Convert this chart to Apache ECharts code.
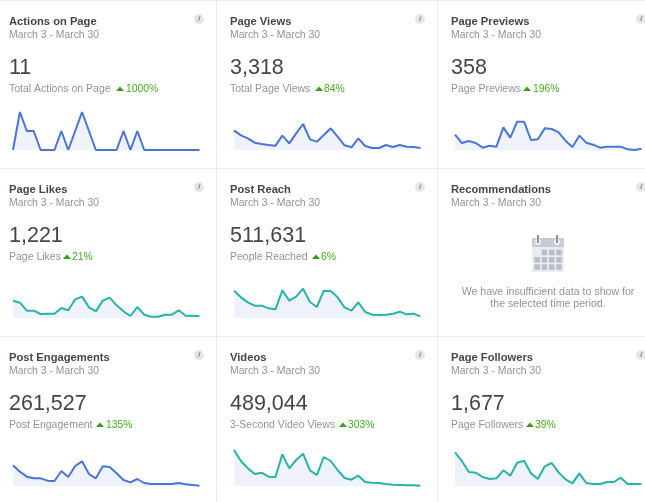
<!DOCTYPE html>
<html>
<head>
<meta charset="utf-8">
<style>
  html, body { margin: 0; padding: 0; background: #fff; }
  #main { width: 645px; height: 502px; }
</style>
<script src="https://cdn.jsdelivr.net/npm/echarts@6/dist/echarts.min.js"></script>
</head>
<body>
<div id="main"></div>
<script>
var titles = ['Actions on Page', 'Page Views', 'Page Previews', 'Page Likes', 'Post Reach', 'Recommendations', 'Post Engagements', 'Videos', 'Page Followers'];
var totals = ['11', '3,318', '358', '1,221', '511,631', '', '261,527', '489,044', '1,677'];
var subLabels = ['Total Actions on Page', 'Total Page Views', 'Page Previews', 'Page Likes', 'People Reached', '', 'Post Engagement', '3-Second Video Views', 'Page Followers'];
var changes = ['1000%', '84%', '196%', '21%', '6%', '', '135%', '303%', '39%'];
var dateRange = 'March 3 - March 30';
var emptyText = ['We have insufficient data to show for', 'the selected time period.'];
var days = ['3', '4', '5', '6', '7', '8', '9', '10', '11', '12', '13', '14', '15', '16', '17', '18', '19', '20', '21', '22', '23', '24', '25', '26', '27', '28', '29', '30'];

// values, relative height of each sparkline
var actionsOnPage = [0, 114, 57, 57, 0, 0, 0, 57, 0, 57, 114, 57, 0, 0, 0, 0, 57, 0, 57, 0, 0, 0, 0, 0, 0, 0, 0, 0];
var pageViews = [59, 44, 35, 22, 18, 15, 13, 43, 20, 50, 78, 32, 25, 45, 65, 40, 14, 8, 35, 12, 6, 6, 15, 9, 15, 10, 9, 6];
var pagePreviews = [46, 21, 27, 21, 7, 13, 10, 68, 37, 85, 85, 30, 32, 65, 63, 53, 28, 9, 43, 22, 16, 7, 10, 10, 10, 2, 0, 4];
var pageLikes = [52, 46, 22, 22, 12, 13, 13, 30, 23, 56, 64, 32, 20, 52, 61, 38, 20, 6, 33, 10, 4, 4, 10, 10, 23, 7, 7, 5];
var postReach = [82, 62, 47, 37, 37, 29, 26, 83, 52, 64, 88, 48, 33, 82, 81, 62, 32, 22, 47, 18, 10, 9, 10, 13, 19, 11, 13, 5];
var postEngagements = [62, 43, 28, 23, 23, 16, 15, 45, 27, 60, 74, 36, 23, 59, 57, 38, 18, 11, 21, 9, 6, 6, 6, 6, 9, 5, 3, 1];
var videos = [108, 75, 53, 36, 40, 28, 27, 95, 53, 78, 97, 47, 33, 87, 75, 48, 24, 19, 31, 12, 10, 9, 6, 4, 3, 2, 2, 1];
var pageFollowers = [101, 75, 42, 40, 27, 21, 23, 47, 31, 70, 76, 38, 21, 59, 69, 41, 20, 8, 38, 9, 6, 6, 12, 12, 25, 6, 6, 6];

var seriesValues = [actionsOnPage, pageViews, pagePreviews, pageLikes, postReach, null, postEngagements, videos, pageFollowers];
var lineColors = ['#4a74d8', '#4a74d8', '#4a74d8', '#27b3a8', '#27b3a8', null, '#4a74d8', '#27b3a8', '#27b3a8'];

var FONT = '"Liberation Sans", Arial, sans-serif';
var textX = [9, 230, 451];
var chartX = [13, 234, 455];
var iconX = [199, 420, 641];
var rowY = [0, 168, 336];
var triangleX = [116, 315, 523, 63, 312, 0, 96, 339, 526];
var changeX = [126, 324, 533, 72, 321, 0, 106, 348, 535];

var chart = echarts.init(document.getElementById('main'));
var grids = [], xAxes = [], yAxes = [], series = [], graphics = [];

function addText(x, y, text, font, fill, align) {
  graphics.push({
    type: 'text', x: x, y: y, silent: true,
    style: { text: text, font: font, fill: fill, textAlign: align || 'left', textVerticalAlign: 'middle' }
  });
}

function addRect(x, y, w, h, fill) {
  graphics.push({ type: 'rect', silent: true, shape: { x: x, y: y, width: w, height: h }, style: { fill: fill } });
}

// card borders
addRect(0, 0, 645, 1, '#e9ebee');
addRect(0, 168, 645, 1, '#e9ebee');
addRect(0, 336, 645, 1, '#e9ebee');
addRect(216, 0, 1, 502, '#e9ebee');
addRect(437, 0, 1, 502, '#e9ebee');

titles.forEach(function (title, i) {
  var col = i % 3, top = rowY[Math.floor(i / 3)];
  addText(textX[col], top + 21.5, title, 'bold 11.2px ' + FONT, '#43464c');
  addText(textX[col], top + 35.5, dateRange, '10.4px ' + FONT, '#90949c');

  // info icon
  graphics.push({ type: 'circle', silent: true, shape: { cx: iconX[col], cy: top + 19, r: 5 }, style: { fill: '#e4e5e7' } });
  addText(iconX[col], top + 19, 'i', 'italic bold 8px ' + FONT, '#8d9096', 'center');

  if (!seriesValues[i]) return;

  addText(textX[col], top + 68.5, totals[i], '21.5px ' + FONT, '#43464c');
  addText(textX[col], top + 89.5, subLabels[i], '10.5px ' + FONT, '#90949c');
  graphics.push({
    type: 'polygon', silent: true,
    shape: { points: [[triangleX[i], top + 91], [triangleX[i] + 4, top + 86.5], [triangleX[i] + 8, top + 91]] },
    style: { fill: '#3a9e12' }
  });
  addText(changeX[i], top + 89.5, changes[i], '10.4px ' + FONT, '#42b01e');

  var n = grids.length;
  grids.push({ left: chartX[col], width: 186.5, top: top + 110, height: 40 });
  xAxes.push({ type: 'category', gridIndex: n, data: days, boundaryGap: false, show: false });
  yAxes.push({ type: 'value', gridIndex: n, min: 0, max: 120, show: false });
  series.push({
    type: 'line',
    xAxisIndex: n,
    yAxisIndex: n,
    data: seriesValues[i],
    showSymbol: false,
    silent: true,
    clip: false,
    lineStyle: { color: lineColors[i], width: 2 },
    areaStyle: { color: '#eff2fb', opacity: 1 }
  });
});

// calendar icon of the empty Recommendations card
addRect(532, 238, 32, 9, '#c8cbd1');
addRect(532, 247, 32, 25, '#e9ebee');
[249.7, 257, 264.3].forEach(function (y, r) {
  [534.3, 541.7, 549, 556.3].forEach(function (x, c) {
    if (r === 0 && c === 0) return;
    addRect(x, y, 5.5, 5.5, '#b9bdc6');
  });
});
[538, 557].forEach(function (x) {
  graphics.push({ type: 'circle', silent: true, shape: { cx: x, cy: 242, r: 3 }, style: { fill: '#f0f1f3' } });
  addRect(x - 1, 235, 2, 8, '#8e93a0');
});
addText(548, 292.5, emptyText[0], '10.6px ' + FONT, '#90949c', 'center');
addText(548, 304.5, emptyText[1], '10.6px ' + FONT, '#90949c', 'center');

chart.setOption({
  animation: false,
  backgroundColor: '#fff',
  grid: grids,
  xAxis: xAxes,
  yAxis: yAxes,
  series: series,
  graphic: { elements: graphics }
});
</script>
</body>
</html>
